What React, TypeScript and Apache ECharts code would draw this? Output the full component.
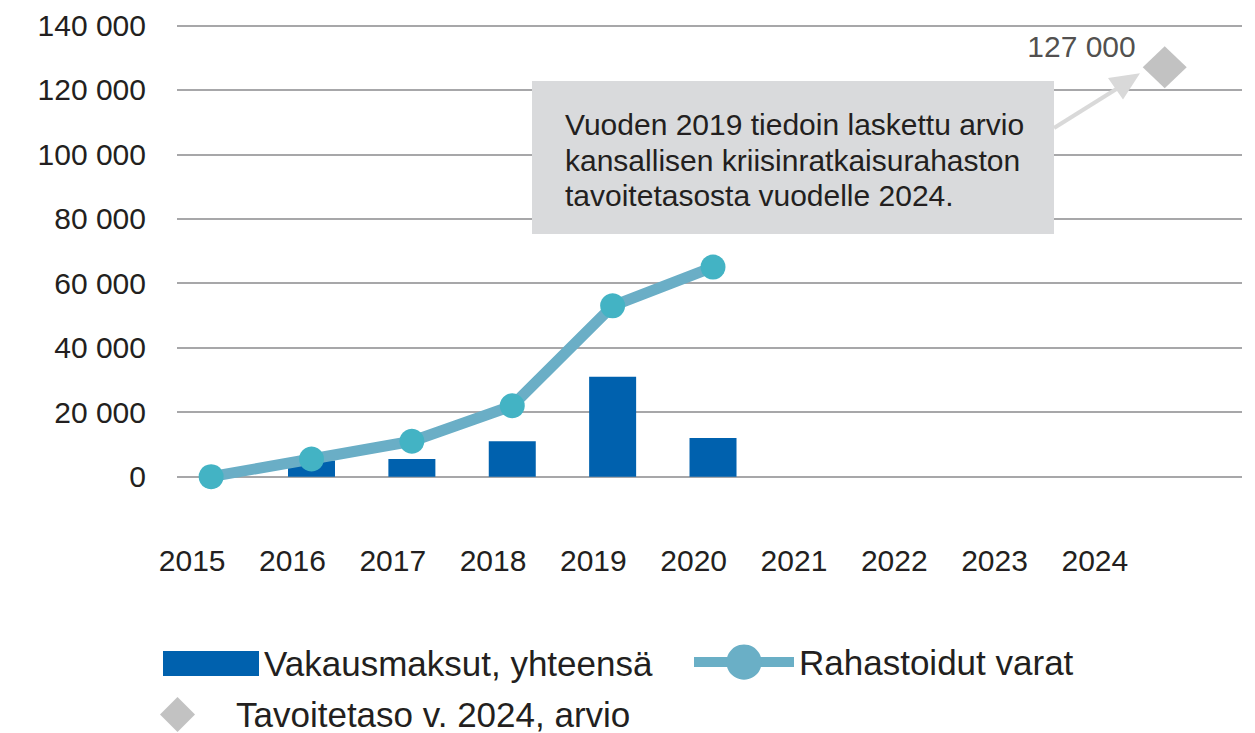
import React, { useEffect, useRef } from "react";
import * as echarts from "echarts";

const years = ["2015", "2016", "2017", "2018", "2019", "2020", "2021", "2022", "2023", "2024"];
const contributions = [0, 5000, 5500, 11000, 31000, 12000, null, null, null, null];
const fundedAssets = [0, 5500, 11000, 22000, 53000, 65000];
const targetPoint = [9.5, 127000];
const targetLabel = "127 000";
const yTicks = [0, 20000, 40000, 60000, 80000, 100000, 120000, 140000];

const seriesNames = ["Vakausmaksut, yhteensä", "Rahastoidut varat", "Tavoitetaso v. 2024, arvio"];
const noteText = [
  "Vuoden 2019 tiedoin laskettu arvio",
  "kansallisen kriisinratkaisurahaston",
  "tavoitetasosta vuodelle 2024.",
];

const FONT = "'Liberation Sans', Arial, Helvetica, sans-serif";
const TXT = "#231f20";

function fmt(v: number) {
  return String(v).replace(/\B(?=(\d{3})+(?!\d))/g, " ");
}

export default function App() {
  const ref = useRef<HTMLDivElement>(null);
  useEffect(() => {
    if (!ref.current) return;
    const chart = echarts.init(ref.current, null, { renderer: "svg" });
    const option: any = {
      animation: false,
      textStyle: { fontFamily: FONT },
      grid: [
        { left: 177, right: 13, top: 25.3, bottom: 256.3 },
        { left: 142, width: 1003, top: 25.3, bottom: 256.3 },
      ],
      xAxis: [
        {
          type: "value",
          gridIndex: 0,
          min: -0.34,
          max: 10.27,
          axisLine: { show: false },
          axisTick: { show: false },
          axisLabel: { show: false },
          splitLine: { show: false },
        },
        {
          type: "category",
          gridIndex: 1,
          data: years,
          boundaryGap: true,
          axisLine: { show: false },
          axisTick: { show: false },
          splitLine: { show: false },
          axisLabel: { fontSize: 30, color: TXT, margin: 69, fontFamily: FONT, interval: 0 },
        },
      ],
      yAxis: [
        {
          type: "value",
          gridIndex: 0,
          min: yTicks[0],
          max: yTicks[yTicks.length - 1],
          interval: yTicks[1] - yTicks[0],
          axisLine: { show: false },
          axisTick: { show: false },
          axisLabel: {
            fontSize: 30,
            color: TXT,
            margin: 31,
            fontFamily: FONT,
            formatter: (v: number) => fmt(v),
          },
          splitLine: { show: true, lineStyle: { color: "#a7a7a9", width: 2 } },
        },
        { type: "value", gridIndex: 1, show: false, min: 0, max: 140000 },
      ],
      legend: [
        {
          data: [{ name: seriesNames[0], icon: "rect" }],
          left: 163,
          top: 646,
          padding: 0,
          itemWidth: 96,
          itemHeight: 25,
          textStyle: { fontSize: 35, color: TXT, fontFamily: FONT },
        },
        {
          data: [{ name: seriesNames[1], itemStyle: { color: "#6aafc6" } }],
          left: 689,
          top: 644.5,
          padding: 0,
          itemWidth: 100,
          itemHeight: 44,
          lineStyle: { width: 10, color: "#6aafc6" },
          textStyle: { fontSize: 35, color: TXT, fontFamily: FONT },
        },
        {
          data: [{ name: seriesNames[2], icon: "diamond" }],
          left: 160,
          top: 697,
          padding: 0,
          itemWidth: 35,
          itemHeight: 35,
          textStyle: { fontSize: 35, color: TXT, fontFamily: FONT, padding: [0, 0, 0, 36] },
        },
      ],
      series: [
        {
          name: seriesNames[0],
          type: "bar",
          xAxisIndex: 0,
          yAxisIndex: 0,
          barWidth: 47,
          itemStyle: { color: "#0061ae" },
          data: years.map((_, i) => [i, contributions[i]]),
          z: 2,
        },
        {
          name: seriesNames[1],
          type: "line",
          xAxisIndex: 0,
          yAxisIndex: 0,
          symbol: "circle",
          symbolSize: 25,
          lineStyle: { color: "#6aaec6", width: 11 },
          itemStyle: { color: "#43b3c4" },
          data: fundedAssets.map((v, i) => [i, v]),
          z: 3,
        },
        {
          name: seriesNames[2],
          type: "scatter",
          xAxisIndex: 0,
          yAxisIndex: 0,
          symbol: "diamond",
          symbolSize: [44, 42],
          itemStyle: { color: "#b3b3b3" },
          data: [targetPoint],
          label: {
            show: true,
            position: "left",
            distance: 7,
            offset: [0, -21],
            formatter: () => targetLabel,
            fontSize: 30,
            color: TXT,
            fontFamily: FONT,
          },
          z: 3,
        },
      ],
      graphic: [
        {
          type: "rect",
          z: 100,
          shape: { x: 532, y: 81, width: 522, height: 153 },
          style: { fill: "#d9dadc" },
        },
        {
          type: "text",
          z: 101,
          style: {
            x: 565,
            y: 107,
            text: noteText.join("\n"),
            font: `30px ${FONT}`,
            lineHeight: 35.5,
            fill: TXT,
          },
        },
        {
          type: "line",
          z: 100,
          shape: { x1: 1054, y1: 128, x2: 1118, y2: 88 },
          style: { stroke: "#d9d9d9", lineWidth: 4 },
        },
        {
          type: "polygon",
          z: 100,
          shape: { points: [[1140, 73.3], [1108, 78], [1123, 99.5]] },
          style: { fill: "#d9d9d9" },
        },
      ],
    };
    chart.setOption(option);
    return () => chart.dispose();
  }, []);
  return (
    <div
      ref={ref}
      style={{ position: "fixed", left: 0, top: 0, width: 1255, height: 733, background: "#fff" }}
    />
  );
}
